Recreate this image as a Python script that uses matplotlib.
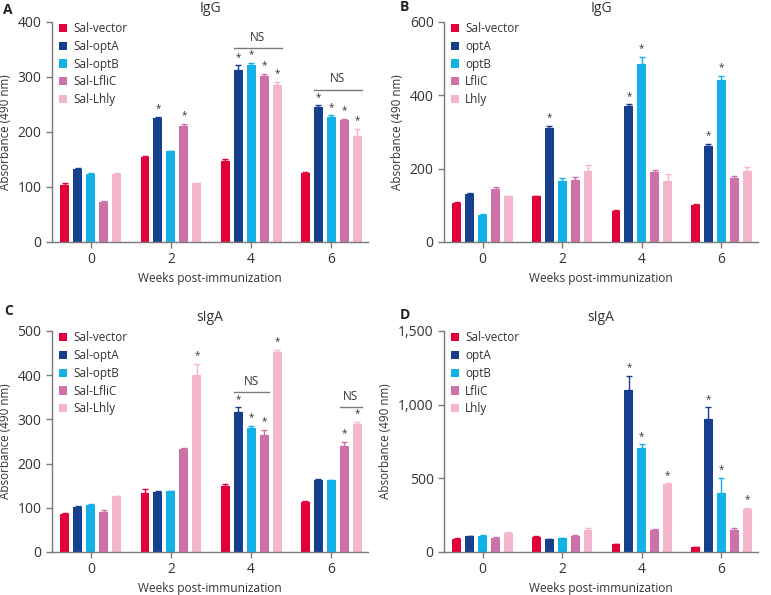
import matplotlib
matplotlib.use('Agg')
import matplotlib.pyplot as plt
import numpy as np

plt.rcParams['font.family'] = ['Open Sans', 'DejaVu Sans']

weeks = ['0', '2', '4', '6']
colors = ['#E2003A', '#163F8C', '#12B2E6', '#CC72A9', '#F5B5CF']
labels_sal = ['Sal-vector', 'Sal-optA', 'Sal-optB', 'Sal-LfliC', 'Sal-Lhly']
labels_short = ['Sal-vector', 'optA', 'optB', 'LfliC', 'Lhly']

# panel A: IgG (rows = group, cols = weeks)
a_val = [[104, 154, 148, 125],
         [132, 225, 313, 245],
         [124, 165, 322, 227],
         [72, 210, 302, 221],
         [124, 107, 285, 192]]
a_err = [[3, 2, 3, 2],
         [2, 3, 8, 3],
         [2, 1, 3, 3],
         [3, 5, 3, 3],
         [1, 1, 6, 14]]
a_star = [[0, 0, 0, 0], [0, 1, 1, 1], [0, 0, 1, 1], [0, 1, 1, 1], [0, 0, 1, 1]]

# panel B: IgG
b_val = [[107, 124, 84, 102],
         [131, 311, 370, 261],
         [73, 167, 485, 441],
         [145, 169, 192, 175],
         [125, 193, 167, 193]]
b_err = [[3, 2, 3, 2],
         [3, 5, 5, 6],
         [3, 8, 20, 11],
         [6, 8, 3, 5],
         [1, 18, 18, 12]]
b_star = [[0, 0, 0, 0], [0, 1, 1, 1], [0, 0, 1, 1], [0, 0, 0, 0], [0, 0, 0, 0]]

# panel C: sIgA
c_val = [[87, 134, 149, 113],
         [101, 135, 317, 162],
         [106, 137, 280, 162],
         [90, 233, 264, 239],
         [126, 400, 453, 289]]
c_err = [[2, 8, 4, 3],
         [2, 2, 10, 2],
         [2, 1, 5, 1],
         [4, 3, 13, 10],
         [1, 25, 4, 6]]
c_star = [[0, 0, 0, 0], [0, 0, 1, 0], [0, 0, 1, 0], [0, 0, 1, 1], [0, 1, 1, 1]]

# panel D: sIgA
d_val = [[88, 104, 54, 34],
         [106, 88, 1101, 900],
         [111, 93, 705, 403],
         [95, 109, 152, 152],
         [131, 152, 460, 290]]
d_err = [[4, 4, 3, 2],
         [5, 3, 95, 81],
         [4, 4, 25, 100],
         [4, 3, 6, 8],
         [4, 13, 5, 9]]
d_star = [[0, 0, 0, 0], [0, 0, 1, 1], [0, 0, 1, 1], [0, 0, 0, 0], [0, 0, 1, 1]]

GRAY = '#7A7A7A'
TXT = '#333333'
W = 0.112
PITCH = 0.162


def panel(ax, vals, errs, stars, labels, title, ymax, step, fmt, ns=()):
    x = np.arange(len(weeks))
    for i in range(5):
        xi = x + (i - 2) * PITCH
        v = np.array(vals[i]); e = np.array(errs[i])
        ax.bar(xi, v, W, color=colors[i], label=labels[i], zorder=2)
        ax.errorbar(xi, v, yerr=[np.zeros_like(e), e], fmt='none',
                    ecolor=colors[i], elinewidth=1.0, capsize=2.5, capthick=1.0, zorder=2)
        for j in range(len(weeks)):
            if stars[i][j]:
                ax.text(xi[j], v[j] + e[j] + ymax * 0.012, '*', ha='center', va='bottom',
                        fontsize=7, color=TXT)
    for (j, i0, i1, yl) in ns:
        x0 = x[j] + (i0 - 2) * PITCH - W / 2
        x1 = x[j] + (i1 - 2) * PITCH + W / 2
        ax.plot([x0, x1], [yl, yl], color=GRAY, lw=1.0, clip_on=False)
        ax.text((x0 + x1) / 2, yl + ymax * 0.02, 'NS', ha='center', va='bottom',
                fontsize=8.5, color=TXT)
    ax.set_xlim(-0.485, 3.46)
    ax.set_ylim(0, ymax)
    ax.set_yticks(np.arange(0, ymax + 1, step))
    ax.set_yticklabels([fmt(t) for t in np.arange(0, ymax + 1, step)])
    ax.set_xticks(x)
    ax.set_xticklabels(weeks)
    for s in ['top', 'right']:
        ax.spines[s].set_visible(False)
    for s in ['left', 'bottom']:
        ax.spines[s].set_color(GRAY)
        ax.spines[s].set_linewidth(1.0)
    ax.tick_params(colors=GRAY, labelcolor=TXT, labelsize=10, length=4, width=1.0)
    ax.set_ylabel('Absorbance (490 nm)', fontsize=8.4, color=TXT, labelpad=4)
    ax.set_xlabel('Weeks post-immunization', fontsize=8.6, color=TXT, labelpad=3)
    ax.set_title(title, fontsize=10, color=TXT, pad=7)
    ax.legend(loc='upper left', bbox_to_anchor=(0.0, 1.03), frameon=False,
              fontsize=8.5, handlelength=0.7, handleheight=0.7,
              handletextpad=0.5, labelspacing=0.4, borderaxespad=0.2,
              labelcolor=TXT)


fig = plt.figure(figsize=(7.71, 5.95), dpi=100)
axA = fig.add_axes([0.0674, 0.5933, 0.41, 0.37])
axB = fig.add_axes([0.576, 0.5933, 0.407, 0.37])
axC = fig.add_axes([0.0674, 0.0723, 0.41, 0.3714])
axD = fig.add_axes([0.576, 0.0723, 0.407, 0.3714])

plain = lambda t: f'{int(t)}'
comma = lambda t: f'{int(t):,}'

panel(axA, a_val, a_err, a_star, labels_sal, 'IgG', 400, 100, plain,
      ns=[(2, 1, 4, 352), (3, 1, 4, 277)])
panel(axB, b_val, b_err, b_star, labels_short, 'IgG', 600, 200, plain)
panel(axC, c_val, c_err, c_star, labels_sal, 'sIgA', 500, 100, plain,
      ns=[(2, 1, 3, 361), (3, 3, 4, 328)])
panel(axD, d_val, d_err, d_star, labels_short, 'sIgA', 1500, 500, comma)

# panel letters
for letter, px, py in [('A', 3, 10), ('B', 400, 7), ('C', 4, 311), ('D', 400, 315)]:
    fig.text(px / 771, 1 - py / 595, letter, fontsize=10, fontweight='bold',
             color='#222222', ha='left', va='center')

fig.savefig('out.png', dpi=100, facecolor='white')
